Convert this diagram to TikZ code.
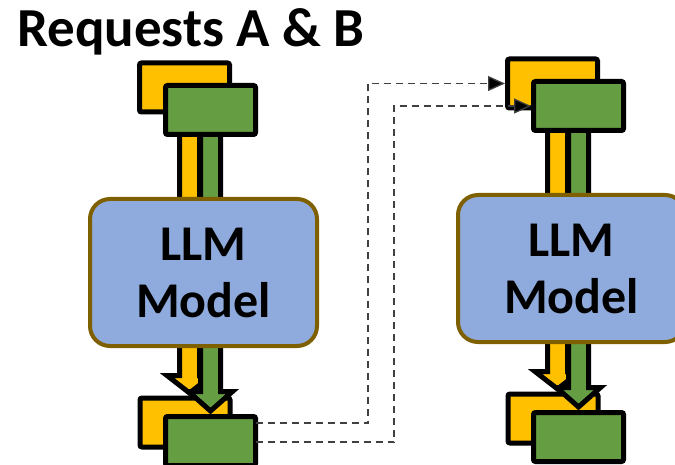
\documentclass[tikz,border=0pt]{standalone}
\usepackage{fontspec}
\setmainfont{Carlito}
\usetikzlibrary{arrows.meta,calc}

\definecolor{reqyellow}{HTML}{FFC000}
\definecolor{reqgreen}{RGB}{101,157,66}
\definecolor{llmfill}{HTML}{8FAADC}
\definecolor{llmedge}{HTML}{7F6000}
\definecolor{linkgray}{HTML}{404040}

\tikzset{
  reqbox/.style={draw=black, line width=5pt, rounded corners=2pt,
    minimum width=90pt, minimum height=49pt, inner sep=0pt, outer sep=0pt},
  llmbox/.style={draw=llmedge, fill=llmfill, line width=4pt, rounded corners=20pt,
    minimum width=227pt, minimum height=147pt, align=center,
    font=\bfseries\fontsize{50}{57}\selectfont, inner sep=0pt, outer sep=0pt},
  flow/.style={draw=black, line width=5pt, line join=miter, miter limit=10},
  handoff/.style={draw=linkgray, line width=1.3pt, dash pattern=on 7pt off 5pt,
    shorten >=2.5pt, -{Triangle[length=17pt,width=15pt,fill=black]}},
}

% block arrow: #1 centre x, #2 top y, #3 head base y, #4 tip y, #5 head half width, #6 fill
\newcommand{\blockarrow}[6]{%
  \filldraw[flow, fill=#6]
    ({#1-10},#2) -- ({#1-10},#3) -- ({#1-#5},#3) -- (#1,#4)
    -- ({#1+#5},#3) -- ({#1+10},#3) -- ({#1+10},#2) -- cycle;}

\begin{document}
\begin{tikzpicture}[x=1pt,y=-1pt]
\useasboundingbox (0,0) rectangle (675,465);
\clip (0,0) rectangle (675,465);

\node[anchor=base west, inner sep=0pt, font=\bfseries\fontsize{55}{60}\selectfont]
  (title) at (17,47) {Requests A \& B};

% left column: first pass through the model
\node[reqbox, fill=reqyellow] (yaL) at (184.5,87.5) {};
\node[reqbox, fill=reqyellow] (ybL) at (185,422.5) {};
\blockarrow{189.5}{110}{375.5}{393}{22.5}{reqyellow}
\blockarrow{210.5}{110}{391.5}{411}{22}{reqgreen}
\node[reqbox, fill=reqgreen] (gaL) at (210.5,110) {};
\node[reqbox, fill=reqgreen] (gbL) at (210.5,441) {};
\node[llmbox] (llmL) at (203.5,272.5) {LLM\\Model};

% right column: second pass through the model
\begin{scope}[shift={(368,-4)}]
\node[reqbox, fill=reqyellow] (yaR) at (184.5,87.5) {};
\node[reqbox, fill=reqyellow] (ybR) at (185,422.5) {};
\blockarrow{189.5}{110}{375.5}{393}{22.5}{reqyellow}
\blockarrow{210.5}{110}{391.5}{411}{22}{reqgreen}
\node[reqbox, fill=reqgreen] (gaR) at (210.5,110) {};
\node[reqbox, fill=reqgreen] (gbR) at (210.5,441) {};
\node[llmbox] (llmR) at (203.5,272.5) {LLM\\Model};
\end{scope}

% outputs fed back in as the next inputs
\coordinate (outA) at (gbL.east |- 0,423);
\coordinate (outB) at (gbL.east |- 0,442);
\draw[handoff] (outA) -- (368,423) |- (yaR.west);
\draw[handoff] (outB) -- (394,442) |- (gaR.west);
\end{tikzpicture}
\end{document}
